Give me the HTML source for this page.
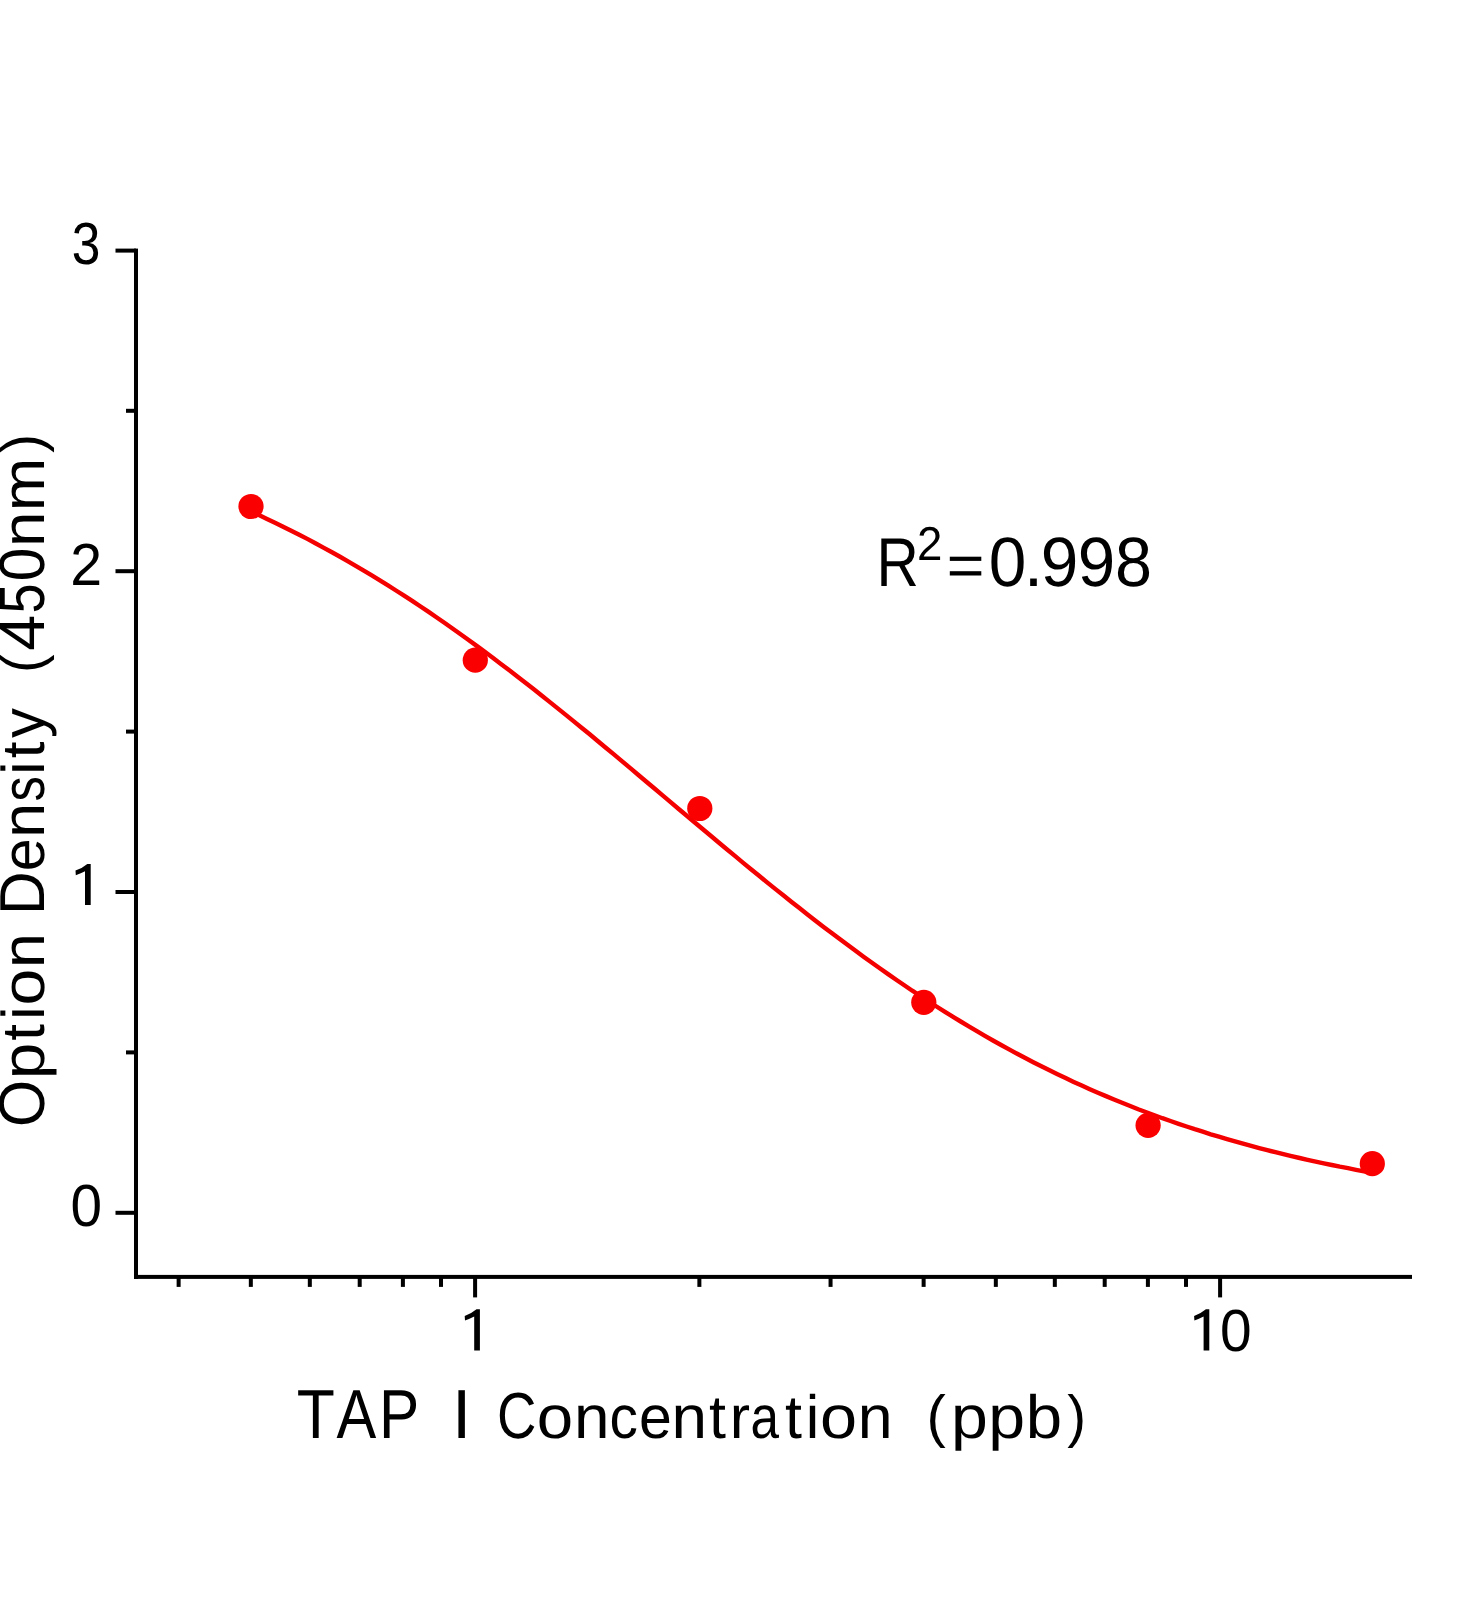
<!DOCTYPE html>
<html><head><meta charset="utf-8"><title>Standard curve</title>
<style>
html,body{margin:0;padding:0;background:#ffffff;}
body{width:1472px;height:1600px;overflow:hidden;position:relative;font-family:"Liberation Sans",sans-serif;}
</style></head>
<body>
<svg width="1472" height="1600" viewBox="0 0 1472 1600" style="position:absolute;left:0;top:0;display:block;will-change:transform">
<rect x="0" y="0" width="1472" height="1600" fill="#ffffff"/>
<g fill="#000">
<rect x="134.00" y="248.60" width="4.0" height="1030.30"/>
<rect x="134.00" y="1274.90" width="1278.00" height="4.0"/>
<rect x="115.50" y="1210.80" width="20.50" height="4.0"/>
<rect x="115.50" y="890.00" width="20.50" height="4.0"/>
<rect x="115.50" y="569.20" width="20.50" height="4.0"/>
<rect x="115.50" y="248.60" width="20.50" height="4.0"/>
<rect x="126.00" y="1050.40" width="10.00" height="4.0"/>
<rect x="126.00" y="729.60" width="10.00" height="4.0"/>
<rect x="126.00" y="408.80" width="10.00" height="4.0"/>
<rect x="473.10" y="1276.90" width="4.0" height="20.50"/>
<rect x="1218.10" y="1276.90" width="4.0" height="20.50"/>
<rect x="176.63" y="1276.90" width="4.0" height="10.00"/>
<rect x="248.83" y="1276.90" width="4.0" height="10.00"/>
<rect x="307.82" y="1276.90" width="4.0" height="10.00"/>
<rect x="357.70" y="1276.90" width="4.0" height="10.00"/>
<rect x="400.90" y="1276.90" width="4.0" height="10.00"/>
<rect x="439.01" y="1276.90" width="4.0" height="10.00"/>
<rect x="697.37" y="1276.90" width="4.0" height="10.00"/>
<rect x="828.56" y="1276.90" width="4.0" height="10.00"/>
<rect x="921.63" y="1276.90" width="4.0" height="10.00"/>
<rect x="993.83" y="1276.90" width="4.0" height="10.00"/>
<rect x="1052.82" y="1276.90" width="4.0" height="10.00"/>
<rect x="1102.70" y="1276.90" width="4.0" height="10.00"/>
<rect x="1145.90" y="1276.90" width="4.0" height="10.00"/>
<rect x="1184.01" y="1276.90" width="4.0" height="10.00"/>
<path transform="translate(90.7,905.1)" d="M-3.4,-41.2 L0,-41.2 L0,0 L-5.7,0 L-5.7,-33.8 Q-10.2,-31.4 -14.9,-29.9 L-15.2,-34.5 Q-8.6,-36.8 -3.4,-41.2 Z"/>
<path transform="translate(479.9,1350.4)" d="M-3.4,-41.2 L0,-41.2 L0,0 L-5.7,0 L-5.7,-33.8 Q-10.2,-31.4 -14.9,-29.9 L-15.2,-34.5 Q-8.6,-36.8 -3.4,-41.2 Z"/>
<path transform="translate(1209.3,1350.4)" d="M-3.4,-41.2 L0,-41.2 L0,0 L-5.7,0 L-5.7,-33.8 Q-10.2,-31.4 -14.9,-29.9 L-15.2,-34.5 Q-8.6,-36.8 -3.4,-41.2 Z"/>
<rect x="949.8" y="556.7" width="31.5" height="4.2"/><rect x="949.8" y="571.2" width="31.5" height="4.3"/>
</g>
<path d="M250.8,511.4 L258.9,515.1 L267.0,518.9 L275.0,522.7 L283.1,526.7 L291.2,530.7 L299.2,534.8 L307.3,538.9 L315.4,543.2 L323.4,547.6 L331.5,552.0 L339.6,556.5 L347.6,561.1 L355.7,565.8 L363.8,570.6 L371.8,575.4 L379.9,580.4 L388.0,585.4 L396.0,590.5 L404.1,595.7 L412.2,600.9 L420.2,606.3 L428.3,611.7 L436.4,617.2 L444.4,622.8 L452.5,628.5 L460.6,634.2 L468.6,640.0 L476.7,645.9 L484.8,651.8 L492.8,657.8 L500.9,663.9 L509.0,670.0 L517.0,676.2 L525.1,682.5 L533.2,688.8 L541.3,695.2 L549.3,701.6 L557.4,708.1 L565.5,714.6 L573.5,721.1 L581.6,727.7 L589.7,734.3 L597.7,741.0 L605.8,747.7 L613.9,754.4 L621.9,761.1 L630.0,767.9 L638.1,774.7 L646.1,781.5 L654.2,788.3 L662.3,795.1 L670.3,801.9 L678.4,808.7 L686.5,815.5 L694.5,822.2 L702.6,829.0 L710.7,835.8 L718.7,842.5 L726.8,849.2 L734.9,855.9 L742.9,862.6 L751.0,869.2 L759.1,875.8 L767.1,882.4 L775.2,888.9 L783.3,895.3 L791.3,901.8 L799.4,908.1 L807.5,914.4 L815.5,920.7 L823.6,926.9 L831.7,933.0 L839.7,939.1 L847.8,945.1 L855.9,951.1 L863.9,957.0 L872.0,962.8 L880.1,968.5 L888.1,974.1 L896.2,979.7 L904.3,985.2 L912.3,990.7 L920.4,996.0 L928.5,1001.3 L936.5,1006.5 L944.6,1011.6 L952.7,1016.6 L960.7,1021.5 L968.8,1026.4 L976.9,1031.2 L984.9,1035.9 L993.0,1040.5 L1001.1,1045.0 L1009.1,1049.4 L1017.2,1053.8 L1025.3,1058.0 L1033.3,1062.2 L1041.4,1066.3 L1049.5,1070.3 L1057.5,1074.2 L1065.6,1078.1 L1073.7,1081.9 L1081.8,1085.6 L1089.8,1089.2 L1097.9,1092.7 L1106.0,1096.1 L1114.0,1099.5 L1122.1,1102.8 L1130.2,1106.0 L1138.2,1109.2 L1146.3,1112.2 L1154.4,1115.2 L1162.4,1118.2 L1170.5,1121.0 L1178.6,1123.8 L1186.6,1126.5 L1194.7,1129.2 L1202.8,1131.7 L1210.8,1134.3 L1218.9,1136.7 L1227.0,1139.1 L1235.0,1141.4 L1243.1,1143.7 L1251.2,1145.9 L1259.2,1148.1 L1267.3,1150.2 L1275.4,1152.2 L1283.4,1154.2 L1291.5,1156.1 L1299.6,1158.0 L1307.6,1159.8 L1315.7,1161.6 L1323.8,1163.3 L1331.8,1165.0 L1339.9,1166.7 L1348.0,1168.2 L1356.0,1169.8 L1364.1,1171.3 L1372.2,1172.7" fill="none" stroke="#f40000" stroke-width="4.4" stroke-linejoin="round" stroke-linecap="butt"/>
<circle cx="251.0" cy="506.5" r="12.6" fill="#fa0000"/>
<circle cx="475.3" cy="660.2" r="12.6" fill="#fa0000"/>
<circle cx="699.8" cy="808.5" r="12.6" fill="#fa0000"/>
<circle cx="923.8" cy="1002.3" r="12.6" fill="#fa0000"/>
<circle cx="1148.1" cy="1125.3" r="12.6" fill="#fa0000"/>
<circle cx="1372.3" cy="1163.7" r="12.6" fill="#fa0000"/>
<g font-family="'Liberation Sans', sans-serif" fill="#000" text-rendering="geometricPrecision">
<text y="264.3"><tspan x="71.64" font-size="59.5" textLength="28.62" lengthAdjust="spacingAndGlyphs">3</tspan></text>
<text y="584.8"><tspan x="70.32" font-size="59.5" textLength="31.86" lengthAdjust="spacingAndGlyphs">2</tspan></text>
<text y="1226.3"><tspan x="70.39" font-size="59.5" textLength="31.53" lengthAdjust="spacingAndGlyphs">0</tspan></text>
<text y="1350.5"><tspan x="1220.08" font-size="59.5" textLength="31.65" lengthAdjust="spacingAndGlyphs">0</tspan></text>
<text y="1437.5"><tspan x="296.80" font-size="69.5" textLength="38.13" lengthAdjust="spacingAndGlyphs">T</tspan><tspan x="336.58" font-size="69.5" textLength="39.73" lengthAdjust="spacingAndGlyphs">A</tspan><tspan x="379.05" font-size="69.5" textLength="40.23" lengthAdjust="spacingAndGlyphs">P</tspan></text>
<text y="1437.5"><tspan x="451.95" font-size="69.5" textLength="19.31" lengthAdjust="spacingAndGlyphs">I</tspan></text>
<text y="1437.5"><tspan x="496.94" font-size="65.0" textLength="39.43" lengthAdjust="spacingAndGlyphs">C</tspan><tspan x="536.85" font-size="61.0" textLength="36.40" lengthAdjust="spacingAndGlyphs">o</tspan><tspan x="573.96" font-size="61.0" textLength="35.48" lengthAdjust="spacingAndGlyphs">n</tspan><tspan x="609.39" font-size="61.0" textLength="28.41" lengthAdjust="spacingAndGlyphs">c</tspan><tspan x="638.99" font-size="61.0" textLength="32.83" lengthAdjust="spacingAndGlyphs">e</tspan><tspan x="671.56" font-size="61.0" textLength="35.48" lengthAdjust="spacingAndGlyphs">n</tspan><tspan x="708.89" font-size="61.0" textLength="16.95" lengthAdjust="spacingAndGlyphs">t</tspan><tspan x="729.82" font-size="61.0" textLength="20.31" lengthAdjust="spacingAndGlyphs">r</tspan><tspan x="750.61" font-size="61.0" textLength="28.50" lengthAdjust="spacingAndGlyphs">a</tspan><tspan x="784.94" font-size="61.0" textLength="16.95" lengthAdjust="spacingAndGlyphs">t</tspan><tspan x="805.74" font-size="61.0" textLength="13.55" lengthAdjust="spacingAndGlyphs">i</tspan><tspan x="820.00" font-size="61.0" textLength="37.10" lengthAdjust="spacingAndGlyphs">o</tspan><tspan x="857.84" font-size="61.0" textLength="34.82" lengthAdjust="spacingAndGlyphs">n</tspan></text>
<text y="1435.6"><tspan x="926.61" font-size="58.0" textLength="19.31" lengthAdjust="spacingAndGlyphs">(</tspan></text>
<text y="1437.5"><tspan x="951.03" font-size="61.0" textLength="36.85" lengthAdjust="spacingAndGlyphs">p</tspan><tspan x="988.33" font-size="61.0" textLength="36.85" lengthAdjust="spacingAndGlyphs">p</tspan><tspan x="1025.89" font-size="61.0" textLength="36.36" lengthAdjust="spacingAndGlyphs">b</tspan></text>
<text y="1435.6"><tspan x="1067.27" font-size="58.0" textLength="18.84" lengthAdjust="spacingAndGlyphs">)</tspan></text>
<text y="585.7"><tspan x="876.49" font-size="68.9" textLength="42.33" lengthAdjust="spacingAndGlyphs">R</tspan></text>
<text y="559.9"><tspan x="916.90" font-size="47.5" textLength="25.39" lengthAdjust="spacingAndGlyphs">2</tspan></text>
<text y="586.1"><tspan x="988.76" font-size="70.0" textLength="37.58" lengthAdjust="spacingAndGlyphs">0</tspan><tspan x="1023.78" font-size="70.0" textLength="19.45" lengthAdjust="spacingAndGlyphs">.</tspan><tspan x="1040.73" font-size="70.0" textLength="37.57" lengthAdjust="spacingAndGlyphs">9</tspan><tspan x="1077.74" font-size="70.0" textLength="37.44" lengthAdjust="spacingAndGlyphs">9</tspan><tspan x="1114.91" font-size="70.0" textLength="36.98" lengthAdjust="spacingAndGlyphs">8</tspan></text>
<text transform="translate(44.3,0) rotate(-90)" y="0"><tspan x="-1127.07" font-size="64.5" textLength="47.06" lengthAdjust="spacingAndGlyphs">O</tspan><tspan x="-1079.23" font-size="60.3" textLength="36.48" lengthAdjust="spacingAndGlyphs">p</tspan><tspan x="-1040.66" font-size="60.3" textLength="16.75" lengthAdjust="spacingAndGlyphs">t</tspan><tspan x="-1019.78" font-size="60.3" textLength="13.40" lengthAdjust="spacingAndGlyphs">i</tspan><tspan x="-1005.47" font-size="60.3" textLength="36.75" lengthAdjust="spacingAndGlyphs">o</tspan><tspan x="-967.97" font-size="60.3" textLength="34.96" lengthAdjust="spacingAndGlyphs">n</tspan></text>
<text transform="translate(44.3,0) rotate(-90)" y="0"><tspan x="-914.96" font-size="63.5" textLength="43.65" lengthAdjust="spacingAndGlyphs">D</tspan><tspan x="-871.32" font-size="60.3" textLength="32.95" lengthAdjust="spacingAndGlyphs">e</tspan><tspan x="-837.76" font-size="60.3" textLength="34.82" lengthAdjust="spacingAndGlyphs">n</tspan><tspan x="-801.40" font-size="60.3" textLength="25.33" lengthAdjust="spacingAndGlyphs">s</tspan><tspan x="-774.73" font-size="60.3" textLength="13.40" lengthAdjust="spacingAndGlyphs">i</tspan><tspan x="-758.31" font-size="60.3" textLength="16.75" lengthAdjust="spacingAndGlyphs">t</tspan><tspan x="-737.95" font-size="60.3" textLength="29.76" lengthAdjust="spacingAndGlyphs">y</tspan></text>
<text transform="translate(41.699999999999996,0) rotate(-90)" y="0"><tspan x="-673.06" font-size="58.0" textLength="18.59" lengthAdjust="spacingAndGlyphs">(</tspan></text>
<text transform="translate(44.3,0) rotate(-90)" y="0"><tspan x="-650.78" font-size="64.0" textLength="35.76" lengthAdjust="spacingAndGlyphs">4</tspan><tspan x="-613.40" font-size="64.0" textLength="29.90" lengthAdjust="spacingAndGlyphs">5</tspan><tspan x="-581.36" font-size="64.0" textLength="33.62" lengthAdjust="spacingAndGlyphs">0</tspan><tspan x="-547.12" font-size="60.3" textLength="35.35" lengthAdjust="spacingAndGlyphs">n</tspan><tspan x="-511.26" font-size="60.3" textLength="53.50" lengthAdjust="spacingAndGlyphs">m</tspan></text>
<text transform="translate(41.699999999999996,0) rotate(-90)" y="0"><tspan x="-452.63" font-size="58.0" textLength="18.71" lengthAdjust="spacingAndGlyphs">)</tspan></text>
</g>
</svg>
</body></html>
